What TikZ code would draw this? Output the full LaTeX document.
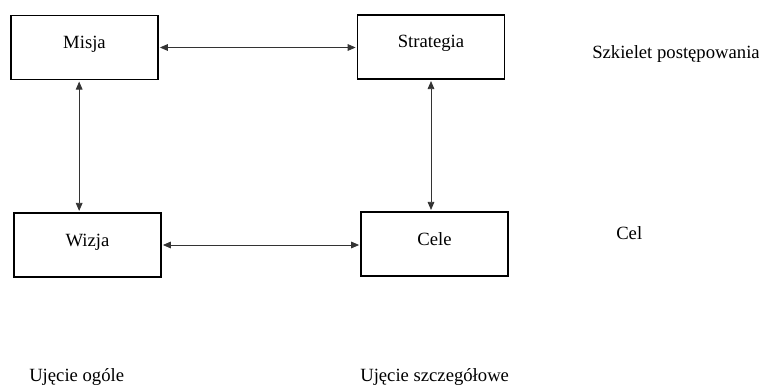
\documentclass[tikz,border=0pt]{standalone}
\usepackage{fontspec}
\setmainfont{Liberation Serif}
\usetikzlibrary{arrows.meta}

\begin{document}
\begin{tikzpicture}[x=0.75pt,y=-0.75pt,
    box/.style={draw,line width=1.1pt,rectangle,minimum width=110pt,minimum height=48pt,
        inner sep=0pt,text height=9.5pt,text depth=8pt,font=\fontsize{14}{16}\selectfont},
    label/.style={inner sep=0pt,font=\fontsize{14}{16}\selectfont},
    conn/.style={{Triangle[length=6pt,width=5pt]}-{Triangle[length=6pt,width=5pt]},
        line width=0.6pt,black!80,shorten <=1pt,shorten >=1pt}]
    \useasboundingbox (0,0) rectangle (759,385);

    \node [box] (misja) at (84.5,47.5) {Misja};
    \node [box] (strategia) at (431,47) {Strategia};
    \node [box] (wizja) at (87.5,245) {Wizja};
    \node [box] (cele) at (434.5,244) {Cele};

    \node [label,anchor=base west] (szkielet) at (592,59) {Szkielet postępowania};
    \node [label,anchor=base west] (cel) at (616,239) {Cel};
    \node [label,anchor=base west] (ogolne) at (29,381) {Ujęcie ogóle};
    \node [label,anchor=base west] (szczegolowe) at (360,381) {Ujęcie szczegółowe};

    \draw [conn] (misja.east) -- (misja.east -| strategia.west);
    \draw [conn] (wizja.east) -- (wizja.east -| cele.west);
    \draw [conn] ([xshift=-4pt]misja.south) -- ([xshift=-4pt]misja.south |- wizja.north);
    \draw [conn] (strategia.south) -- (strategia.south |- cele.north);
\end{tikzpicture}
\end{document}
